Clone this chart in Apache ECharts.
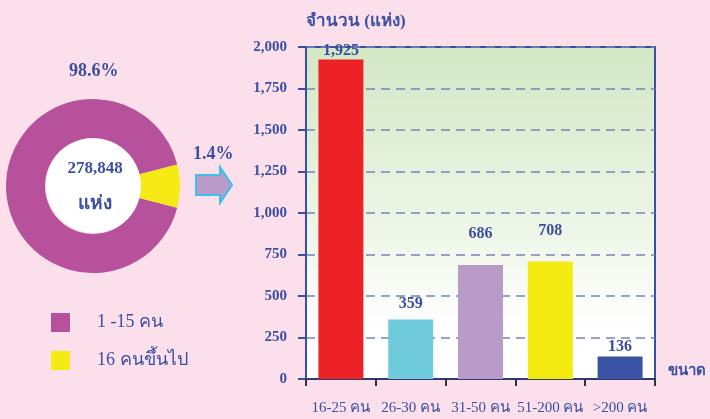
<!DOCTYPE html>
<html><head><meta charset="utf-8">
<script src="https://cdn.jsdelivr.net/npm/echarts@6/dist/echarts.min.js"></script>
<style>html,body{margin:0;padding:0;background:#fbe0ec;}#c{width:710px;height:419px;}</style>
</head><body><div id="c"></div>
<script>
// ---- data ----
var barCategories = ['16-25 คน', '26-30 คน', '31-50 คน', '51-200 คน', '>200 คน'];
var barValues = [1925, 359, 686, 708, 136];
var yTicks = [0, 250, 500, 750, 1000, 1250, 1500, 1750, 2000];
var pieCategories = ['1 -15 คน', '16 คนขึ้นไป'];
var pieValues = [92, 8];            // slice sizes as drawn in the picture
var pieLabels = ['98.6%', '1.4%'];
var pieTotal = '278,848';
var pieUnit = 'แห่ง';
var yAxisTitle = 'จำนวน (แห่ง)';
var xAxisTitle = 'ขนาด';

// ---- styles ----
var blue = '#3b4fa2';
var serif = '"Liberation Serif", "DejaVu Serif", serif';
var barColors = ['#ec2227', '#6fcbdc', '#b99bc8', '#f4eb13', '#3a52a3'];
var pieColors = ['#b8519b', '#f5ea14'];
var labelOffsets = [[0, 3], [0, -4], [0, -19], [0, -19], [0, 2]];

var chart = echarts.init(document.getElementById('c'));
chart.setOption({
  backgroundColor: '#fbe0ec',
  animation: false,
  textStyle: { fontFamily: serif },
  grid: {
    left: 306, right: 55, top: 47, bottom: 40,
    containLabel: false,
    outerBoundsMode: 'none',
    show: true,
    borderColor: blue, borderWidth: 2,
    backgroundColor: new echarts.graphic.LinearGradient(0, 0, 0, 1, [
      { offset: 0, color: '#d2e7c5' },
      { offset: 0.55, color: '#eef6e8' },
      { offset: 0.85, color: '#ffffff' },
      { offset: 1, color: '#ffffff' }
    ])
  },
  legend: {
    orient: 'vertical', left: 51, top: 313, itemWidth: 19, itemHeight: 19, itemGap: 19,
    padding: 0,
    icon: 'rect',
    data: pieCategories,
    textStyle: { color: blue, fontSize: 18, fontFamily: serif, padding: [0, 0, 0, 22] }
  },
  xAxis: {
    type: 'category', data: barCategories,
    name: xAxisTitle, nameLocation: 'end', nameGap: 13,
    nameTextStyle: { color: blue, fontSize: 15, fontWeight: 'bold', fontFamily: serif, verticalAlign: 'bottom' },
    axisLine: { lineStyle: { color: '#2e3a70', width: 2 } },
    axisTick: { show: true, length: 7, lineStyle: { color: '#333', width: 2 } },
    axisLabel: { color: blue, fontSize: 15, fontFamily: serif, margin: 22, interval: 0 }
  },
  yAxis: {
    type: 'value', min: 0, max: 2000, interval: 250,
    name: yAxisTitle, nameLocation: 'end', nameGap: 17,
    nameTextStyle: { color: blue, fontSize: 17, fontWeight: 'bold', fontFamily: serif, align: 'left' },
    axisLine: { show: true, lineStyle: { color: blue, width: 2 } },
    axisTick: { show: true, length: 8, lineStyle: { color: blue, width: 2 } },
    axisLabel: {
      color: blue, fontSize: 15, fontWeight: 'bold', fontFamily: serif, margin: 19,
      formatter: function (v) { return yTicks.indexOf(v) >= 0 ? v.toLocaleString('en-US') : ''; }
    },
    splitLine: { show: true, lineStyle: { color: '#7586b3', width: 1.5, type: [9, 6] } }
  },
  series: [
    {
      type: 'bar', barWidth: 45,
      data: barValues.map(function (v, i) {
        return {
          value: v,
          itemStyle: { color: barColors[i] },
          label: { offset: labelOffsets[i] }
        };
      }),
      label: {
        show: true, position: 'top', distance: 4,
        color: blue, fontSize: 16, fontWeight: 'bold', fontFamily: serif,
        formatter: function (p) { return p.value.toLocaleString('en-US'); }
      }
    },
    {
      type: 'pie', center: [93, 186], radius: [48, 87],
      startAngle: -14.5, clockwise: true,
      label: { show: false }, labelLine: { show: false },
      emphasis: { disabled: true },
      data: pieCategories.map(function (n, i) {
        return { name: n, value: pieValues[i], itemStyle: { color: pieColors[i] } };
      })
    },
    {
      type: 'pie', center: [94, 185], radius: [0, 48], silent: true, z: 1,
      label: { show: false }, labelLine: { show: false },
      data: [{ value: 1, name: '_center', itemStyle: { color: '#ffffff' } }],
      legendHoverLink: false
    }
  ],
  graphic: [
    { type: 'text', z: 100, left: 69, top: 62, style: { text: pieLabels[0], fill: blue, font: 'bold 18px ' + serif } },
    { type: 'text', z: 100, left: 193, top: 145, style: { text: pieLabels[1], fill: blue, font: 'bold 18px ' + serif } },
    { type: 'text', z: 100, x: 95, y: 169, style: { text: pieTotal, fill: blue, font: 'bold 17px ' + serif, textAlign: 'center', textVerticalAlign: 'middle' } },
    { type: 'text', z: 100, x: 95, y: 204, style: { text: pieUnit, fill: blue, font: 'bold 19px ' + serif, textAlign: 'center', textVerticalAlign: 'middle' } },
    {
      type: 'polygon', z: 100,
      shape: { points: [[196, 175], [220, 175], [220, 167], [232, 185], [220, 203], [220, 195], [196, 195]] },
      style: { fill: '#b99ac8', stroke: '#3cc0ec', lineWidth: 2 }
    }
  ]
});
</script>
</body></html>
